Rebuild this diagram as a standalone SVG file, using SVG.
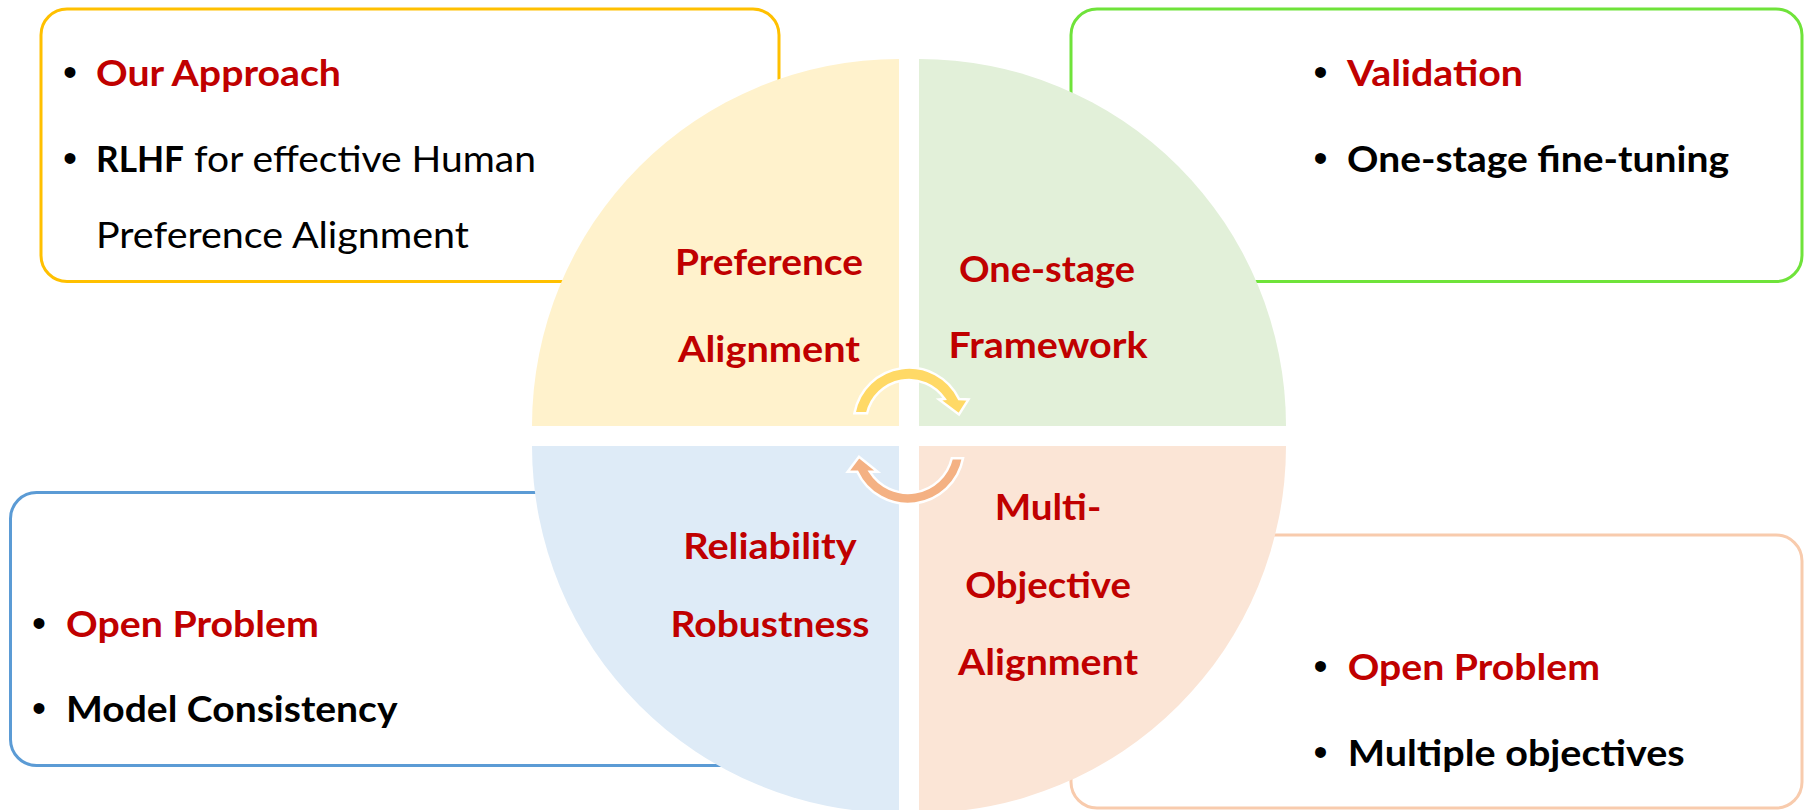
<svg xmlns="http://www.w3.org/2000/svg" width="1804" height="810" viewBox="0 0 1804 810">
  <defs>
    <style>
      .box { fill: #ffffff; stroke-width: 3; }
      .quad { stroke: none; }
      .lbl { font-family: Lato, "Liberation Sans", sans-serif; font-weight: 700; font-size: 37px; fill: #C00000; text-anchor: middle; }
      .head { font-family: Lato, "Liberation Sans", sans-serif; font-weight: 700; font-size: 37px; fill: #C00000; }
      .item { font-family: Lato, "Liberation Sans", sans-serif; font-weight: 700; font-size: 37px; fill: #000000; }
      .plain { font-family: Lato, "Liberation Sans", sans-serif; font-weight: 400; font-size: 37px; fill: #000000; }
      .bullet { font-family: "Liberation Sans", Arial, sans-serif; font-size: 40px; fill: #000000; }
      .arrow { stroke: #ffffff; stroke-width: 2.5; stroke-linejoin: miter; }
    </style>
  </defs>

  <rect width="1804" height="810" fill="#ffffff"/>

  <!-- Side panels with bullet lists (drawn first, the pie overlaps them) -->
  <g id="box-approach">
    <rect class="box" x="41" y="9" width="738" height="272.5" rx="26" stroke="#FFC000"/>
  </g>
  <g id="box-validation">
    <rect class="box" x="1071" y="9" width="731" height="272.5" rx="26" stroke="#6FE33A"/>
  </g>
  <g id="box-consistency">
    <rect class="box" x="10.5" y="492.5" width="738" height="273" rx="26" stroke="#5B9BD5"/>
  </g>
  <g id="box-objectives">
    <rect class="box" x="1071" y="535" width="731" height="273" rx="26" stroke="#F8CBAD"/>
  </g>

  <!-- Four quarter-circle segments -->
  <g id="quad-preference">
    <path class="quad" fill="#FFF2CC" d="M899,426 L532,426 A367,367 0 0 1 899,59 Z"/>
    <text class="lbl" x="769" y="275" textLength="188" lengthAdjust="spacingAndGlyphs">Preference</text>
    <text class="lbl" x="769" y="361.7" textLength="182" lengthAdjust="spacingAndGlyphs">Alignment</text>
  </g>
  <g id="quad-onestage">
    <path class="quad" fill="#E2F0D9" d="M919,426 L919,59 A367,367 0 0 1 1286,426 Z"/>
    <text class="lbl" x="1047" y="281.7" textLength="176" lengthAdjust="spacingAndGlyphs">One-stage</text>
    <text class="lbl" x="1048" y="358.3" textLength="199" lengthAdjust="spacingAndGlyphs">Framework</text>
  </g>
  <g id="quad-reliability">
    <path class="quad" fill="#DEEBF7" d="M899,446 L899,813 A367,367 0 0 1 532,446 Z"/>
    <text class="lbl" x="770" y="559" textLength="173.5" lengthAdjust="spacingAndGlyphs">Reliability</text>
    <text class="lbl" x="770" y="636.7" textLength="199" lengthAdjust="spacingAndGlyphs">Robustness</text>
  </g>
  <g id="quad-multiobjective">
    <path class="quad" fill="#FBE5D6" d="M919,446 L1286,446 A367,367 0 0 1 919,813 Z"/>
    <text class="lbl" x="1048" y="520" textLength="106.7" lengthAdjust="spacingAndGlyphs">Multi-</text>
    <text class="lbl" x="1048" y="598.3" textLength="165.7" lengthAdjust="spacingAndGlyphs">Objective</text>
    <text class="lbl" x="1048" y="675" textLength="180" lengthAdjust="spacingAndGlyphs">Alignment</text>
  </g>

  <!-- Circular arrows in the centre -->
  <g id="connectors">
    <path class="arrow" fill="#FFD966" d="M854.4,413.3 A55.5,55.5 0 0 1 959,399 L968.5,399.5 L959,414.5 L939,399.5 L944.7,399 A43,43 0 0 0 867.1,413.3 Z"/>
    <path class="arrow" fill="#F4B183" d="M963,458.3 A56,56 0 0 1 857.3,471.7 L847.7,471.7 L859,456.7 L877.7,471.7 L869.8,471.7 A45,45 0 0 0 951.8,458.3 Z"/>
  </g>

  <!-- Panel texts -->
  <g id="text-approach">
    <text class="bullet" x="63" y="86">•</text>
    <text class="head" x="96" y="86" textLength="245" lengthAdjust="spacingAndGlyphs">Our Approach</text>
    <text class="bullet" x="63" y="171.7">•</text>
    <text class="item" x="96" y="171.7" textLength="88" lengthAdjust="spacingAndGlyphs">RLHF</text>
    <text class="plain" x="194" y="171.7" textLength="342" lengthAdjust="spacingAndGlyphs">for effective Human</text>
    <text class="plain" x="96" y="248" textLength="373" lengthAdjust="spacingAndGlyphs">Preference Alignment</text>
  </g>
  <g id="text-validation">
    <text class="bullet" x="1313.5" y="86">•</text>
    <text class="head" x="1347" y="86" textLength="176" lengthAdjust="spacingAndGlyphs">Validation</text>
    <text class="bullet" x="1313.5" y="171.7">•</text>
    <text class="item" x="1347" y="171.7" textLength="382" lengthAdjust="spacingAndGlyphs">One-stage fine-tuning</text>
  </g>
  <g id="text-consistency">
    <text class="bullet" x="32" y="636.7">•</text>
    <text class="head" x="66" y="636.7" textLength="253" lengthAdjust="spacingAndGlyphs">Open Problem</text>
    <text class="bullet" x="32" y="722">•</text>
    <text class="item" x="66" y="722" textLength="331.5" lengthAdjust="spacingAndGlyphs">Model Consistency</text>
  </g>
  <g id="text-objectives">
    <text class="bullet" x="1313.5" y="680">•</text>
    <text class="head" x="1347.7" y="680" textLength="252.3" lengthAdjust="spacingAndGlyphs">Open Problem</text>
    <text class="bullet" x="1313.5" y="766">•</text>
    <text class="item" x="1347.7" y="766" textLength="337" lengthAdjust="spacingAndGlyphs">Multiple objectives</text>
  </g>
</svg>
